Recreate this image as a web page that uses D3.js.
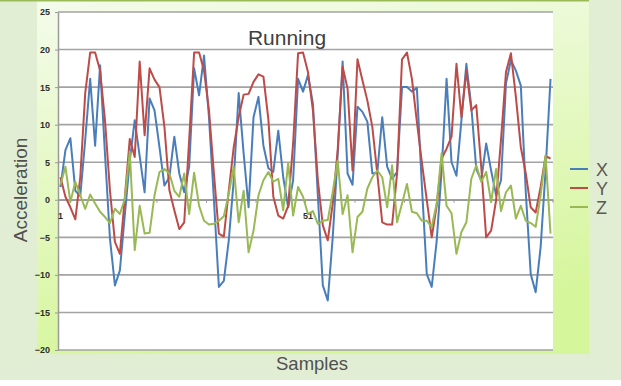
<!DOCTYPE html>
<html>
<head>
<meta charset="utf-8">
<script src="https://cdn.jsdelivr.net/npm/d3@7"></script>
<style>
  html, body { margin: 0; padding: 0; background: #fff; }
  svg { display: block; font-family: "Liberation Sans", Arial, sans-serif; }
</style>
</head>
<body>
<svg id="chart" width="621" height="386"></svg>
<script>
// samples 1..100
var samples = d3.range(1, 101)
var seriesNames = ['X', 'Y', 'Z']
var seriesColors = ['#4a7ebb', '#be4b48', '#98b954']

var xValues = [1.7, 6.6, 8.2, 1.2, 0.5, 8.0, 16.1, 7.2, 17.9, 6.0,
  -5.2, -11.4, -9.4, -2.0, 5.2, 10.6, 5.8, 1.0, 13.5, 11.9,
  7.0, 1.9, 3.0, 8.4, 3.5, 1.0, 4.4, 17.5, 13.9, 19.2,
  11.0, 0.0, -11.6, -10.8, -5.4, 2.6, 14.2, 6.2, -1.0, 11.0,
  13.7, 7.2, 4.2, 3.7, 9.2, 3.0, -1.0, 2.6, 16.1, 14.4,
  16.6, 12.8, 0.5, -11.4, -13.4, -5.0, 6.0, 18.4, 3.5, 2.0,
  12.4, 11.7, 10.4, 3.5, 3.6, 11.0, 4.4, 2.8, 3.7, 15.0,
  15.0, 14.4, 14.9, 2.0, -9.9, -11.6, -5.5, 3.9, 16.1, 5.0,
  3.2, 10.6, 18.1, 12.4, 4.1, 2.6, 7.5, 3.9, 0.6, 2.6,
  15.5, 18.6, 17.2, 15.2, 1.0, -9.9, -12.3, -6.3, 3.9, 16.1]

var yValues = [3.0, 0.4, -1.0, -2.6, 3.0, 14.2, 19.6, 19.6, 17.2, 10.5,
  1.2, -5.6, -7.2, 0.3, 8.1, 5.7, 18.4, 8.6, 17.5, 16.0,
  15.0, 9.7, 1.3, -1.4, -3.9, -3.0, 8.0, 19.6, 19.6, 17.2,
  11.9, 3.5, -4.5, -4.9, 1.2, 7.0, 11.0, 14.0, 14.1, 15.7,
  16.7, 16.4, 10.7, 0.4, -2.1, -2.5, -0.8, 7.5, 19.5, 19.6,
  17.0, 11.9, 2.6, -3.4, -5.4, -0.5, 6.6, 17.7, 14.8, 3.9,
  18.7, 15.9, 13.2, 9.7, 3.5, -3.0, -3.3, -3.3, 3.5, 18.7,
  19.6, 16.1, 10.4, 5.0, 0.0, -5.0, -0.8, 5.5, 6.8, 8.4,
  18.1, 11.0, 17.2, 11.9, 12.6, 4.4, -5.0, -4.1, -0.1, 8.0,
  17.0, 19.5, 13.7, 7.0, 3.5, -1.0, -1.7, 1.7, 5.8, 5.5]

var zValues = [2.0, 4.4, -0.3, 2.4, 0.6, -1.2, 0.7, -0.5, -1.6, -2.3,
  -3.1, -1.2, -1.9, 0.1, 6.4, -6.7, -0.8, -4.5, -4.4, 0.6,
  3.7, 4.1, 3.5, 1.2, 0.4, 3.5, -1.9, 3.6, -0.8, -2.8,
  -3.3, -3.2, -2.8, -2.2, 0.8, 4.4, -3.0, 1.2, -7.0, -4.1,
  0.6, 2.6, 3.7, 2.4, 2.8, -1.4, 4.9, -2.1, 1.7, 0.4,
  -1.9, -1.5, -3.2, -2.8, -2.7, 1.0, 5.2, -1.9, 0.6, -7.0,
  -2.3, -1.6, 1.5, 3.0, 3.9, 3.0, -1.0, 4.6, -3.0, -0.5,
  2.1, -1.6, -1.8, -2.8, -2.8, -3.6, -0.5, 6.2, -0.8, -1.8,
  -7.2, -4.3, -3.0, 2.8, 4.6, 2.4, 3.7, -0.3, 4.1, -1.5,
  1.0, 1.9, -2.5, -0.8, -2.8, -3.1, -3.6, 0.6, 5.9, -4.5]

var yTicks = [-20, -15, -10, -5, 0, 5, 10, 15, 20, 25]
var xTickLabels = [1, 51]

var svg = d3.select('#chart')

// background pieces
var defs = svg.append('defs')
var grad = defs.append('linearGradient')
    .attr('id', 'chartBg')
    .attr('x1', 0).attr('y1', 0).attr('x2', 0.25).attr('y2', 1)
grad.append('stop').attr('offset', '0%').attr('stop-color', '#f4fbeb')
grad.append('stop').attr('offset', '100%').attr('stop-color', '#d6f69c')

svg.append('rect').attr('x', 0).attr('y', 0).attr('width', 621).attr('height', 380)
    .attr('fill', '#e2eed4')
svg.append('rect').attr('x', 37).attr('y', 0).attr('width', 552).attr('height', 354)
    .attr('fill', 'url(#chartBg)')
svg.append('rect').attr('x', 0).attr('y', 0).attr('width', 589).attr('height', 1.5)
    .attr('fill', '#9bbb59')

var plot = { left: 58, right: 553, top: 12, bottom: 350 }

svg.append('rect')
    .attr('x', plot.left).attr('y', plot.top)
    .attr('width', plot.right - plot.left).attr('height', plot.bottom - plot.top)
    .attr('fill', '#fff')

var x = d3.scaleBand().domain(samples).range([plot.left, plot.right])
var y = d3.scaleLinear().domain([-20, 25]).range([plot.bottom, plot.top])
var cx = function (d) { return x(d) + x.bandwidth() / 2 }

// gridlines
svg.append('g')
    .selectAll('line')
    .data(yTicks)
    .enter()
    .append('line')
    .attr('x1', plot.left).attr('x2', plot.right)
    .attr('y1', function (d) { return y(d) })
    .attr('y2', function (d) { return y(d) })
    .attr('stroke', '#a3a3a3')
    .attr('stroke-width', 1.6)

// y axis
var yAxis = svg.append('g')
    .attr('transform', 'translate(' + plot.left + ',0)')
    .call(d3.axisLeft(y).tickValues(yTicks).tickSize(3).tickSizeOuter(0).tickPadding(5))
yAxis.select('.domain').attr('stroke', '#9a9a9a').attr('stroke-width', 1.5)
yAxis.selectAll('.tick line').attr('stroke', '#9a9a9a')
yAxis.selectAll('text')
    .attr('fill', '#2e2e2e')
    .style('font-size', '9px')
    .style('font-weight', 'bold')

// x axis on zero line
var xAxis = svg.append('g')
    .attr('transform', 'translate(0,' + y(0) + ')')
    .call(d3.axisBottom(x)
        .tickValues(xTickLabels)
        .tickSize(0)
        .tickSizeOuter(0))
xAxis.select('.domain').attr('stroke', '#9a9a9a').attr('stroke-width', 1.5)
xAxis.selectAll('text')
    .attr('y', 13)
    .attr('fill', '#2e2e2e')
    .style('font-size', '9px')
    .style('font-weight', 'bold')

// tick marks between categories every 10 samples
svg.append('g')
    .selectAll('line')
    .data(samples.filter(function (d) { return d % 10 === 0 }))
    .enter()
    .append('line')
    .attr('x1', function (d) { return x(d) + x.bandwidth() })
    .attr('x2', function (d) { return x(d) + x.bandwidth() })
    .attr('y1', y(0)).attr('y2', y(0) + 3)
    .attr('stroke', '#9a9a9a')

// series lines
var allSeries = [xValues, yValues, zValues]
var line = d3.line()
    .x(function (d, i) { return cx(samples[i]) })
    .y(function (d) { return y(d) })

svg.append('g')
    .selectAll('path')
    .data(allSeries)
    .enter()
    .append('path')
    .attr('d', line)
    .attr('fill', 'none')
    .attr('stroke', function (d, i) { return seriesColors[i] })
    .attr('stroke-width', 2)
    .attr('stroke-linejoin', 'round')

// titles
svg.append('text')
    .attr('x', 287).attr('y', 45)
    .attr('text-anchor', 'middle')
    .attr('fill', '#404040')
    .style('font-size', '21px')
    .text('Running')

svg.append('text')
    .attr('x', 312).attr('y', 370)
    .attr('text-anchor', 'middle')
    .attr('fill', '#505050')
    .style('font-size', '18.5px')
    .text('Samples')

svg.append('text')
    .attr('transform', 'translate(27,190) rotate(-90)')
    .attr('text-anchor', 'middle')
    .attr('fill', '#505050')
    .style('font-size', '19px')
    .text('Acceleration')

// legend
var legend = svg.append('g')
    .selectAll('g')
    .data(seriesNames)
    .enter()
    .append('g')
    .attr('transform', function (d, i) { return 'translate(570,' + (169 + i * 19) + ')' })

legend.append('line')
    .attr('x1', 0).attr('x2', 18)
    .attr('stroke', function (d, i) { return seriesColors[i] })
    .attr('stroke-width', 2)

legend.append('text')
    .attr('x', 26).attr('y', 6.5)
    .attr('fill', '#595959')
    .style('font-size', '18px')
    .text(function (d) { return d })
</script>
</body>
</html>
